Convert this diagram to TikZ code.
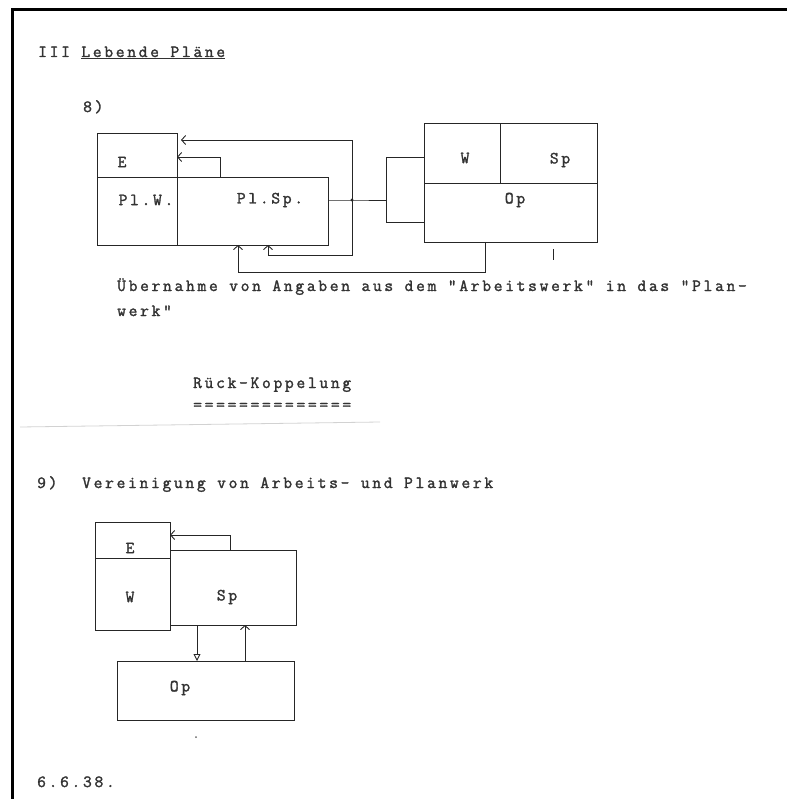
\documentclass[tikz,border=0pt]{standalone}
\usepackage{fontspec}
\newfontfamily\typew[LetterSpace=16, FakeBold=1.8]{Latin Modern Mono}
\usetikzlibrary{positioning,arrows.meta}

\begin{document}
\begin{tikzpicture}[
    x=1pt, y=-1pt,
    font=\typew\fontsize{17}{22}\selectfont,
    txt/.style={anchor=base west, inner sep=0pt, text=black!80},
    lbl/.style={inner sep=0pt, text=black!80},
    box/.style={draw=black!85, line width=0.9pt, inner sep=0pt, outer sep=0pt},
    ln/.style={draw=black!85, line width=0.9pt},
    arr/.style={-{Straight Barb[length=4pt, width=9pt]}, draw=black!85, line width=0.9pt},
    hollow/.style={-{Triangle[open, length=7pt, width=7pt]}, draw=black!85, line width=0.9pt}
  ]
  \useasboundingbox (0,0) rectangle (787,799);
  % edge of the sheet
  \draw[line width=3pt] (12.5,799) -- (12.5,9.5) -- (787,9.5);

  \node[txt] (title) at (38,57) {III \underline{Lebende Pläne}};
  \node[txt] (n8) at (83,112) {8)};

  % 8) plan work and working work
  \node[box, minimum width=80, minimum height=44, anchor=north west] (e8) at (97,133) {};
  \node[box, minimum width=80, minimum height=68, below=0pt of e8] (plw) {};
  \node[box, minimum width=151, minimum height=68, right=0pt of plw] (plsp) {};
  \node[box, minimum width=76, minimum height=60, anchor=north west] (w8) at (424,123) {};
  \node[box, minimum width=97, minimum height=60, right=0pt of w8] (sp8) {};
  \node[box, minimum width=173, minimum height=59, anchor=north west] (op8) at (w8.south west) {};

  \node[lbl] (le8) at (122,162) {E};
  \node[lbl] (lplw) at (146,200) {Pl.W.};
  \node[lbl] (lplsp) at (270,200) {Pl.Sp.};
  \node[lbl] (lw8) at (465,158) {W};
  \node[lbl] (lsp8) at (560,160) {Sp};
  \node[lbl] (lop8) at (515,200) {Op};

  \coordinate (j1) at (352,200);
  \coordinate (bt) at (386,157);
  \coordinate (bb) at (386,222);
  \coordinate (lt) at (352,140);
  \coordinate (lb) at (352,255);
  \coordinate (lbx) at (268,255);
  \coordinate (sa) at (220,157);
  \coordinate (ba1) at (485,272);
  \coordinate (ba2) at (238,272);

  \draw[ln] (plsp.east |- j1) -- (j1) -- (j1 -| bt);
  \draw[ln] (bt -| w8.west) -- (bt) -- (bb) -- (bb -| op8.west);
  \fill[black!85] (j1) circle (1.6);
  \draw[arr] (j1) -- (lt) -- ([xshift=4]lt -| e8.east);
  \draw[arr] (j1) -- (lb) -- (lbx) -- (lbx |- plsp.south);
  \draw[arr] (plsp.north -| sa) -- (sa) -- (sa -| e8.east);
  \draw[arr] (op8.south -| ba1) -- (ba1) -- (ba2) -- (ba2 |- plsp.south);
  \draw[ln] (553,249) -- (553,260);

  \node[txt] (uebern) at (117,291) {Übernahme von Angaben aus dem "Arbeitswerk" in das "Plan-};
  \node[txt] (uebern2) at (117,316) {werk"};
  \node[txt] (rk) at (193,388) {Rück-Koppelung};
  \node[txt] (rkline) at (193,410) {==============};
  \draw[gray!35, line width=0.8pt] (20,427) -- (380,422);

  % 9) united work
  \node[txt] (n9) at (37,488) {9)};
  \node[txt] (verein) at (82,488) {Vereinigung von Arbeits- und Planwerk};

  \node[box, minimum width=75, minimum height=36, anchor=north west] (e9) at (95,522) {};
  \node[box, minimum width=75, minimum height=72, below=0pt of e9] (w9) {};
  \node[box, minimum width=126, minimum height=75, anchor=north west] (sp9) at (170,550) {};
  \node[box, minimum width=177, minimum height=59, anchor=north west] (op9) at (117,661) {};

  \node[lbl] (le9) at (130,548) {E};
  \node[lbl] (lw9) at (130,597) {W};
  \node[lbl] (lsp9) at (227,597) {Sp};
  \node[lbl] (lop9) at (180,688) {Op};

  \coordinate (sb) at (230,535);
  \coordinate (db) at (197,600);
  \coordinate (ub) at (245,600);
  \draw[arr] (sp9.north -| sb) -- (sb) -- (sb -| e9.east);
  \draw[hollow] (sp9.south -| db) -- (op9.north -| db);
  \draw[arr] (op9.north -| ub) -- (sp9.south -| ub);
  \fill[black!60] (196,737) circle (1);

  \node[txt] (datum) at (37,787) {6.6.38.};
\end{tikzpicture}
\end{document}
